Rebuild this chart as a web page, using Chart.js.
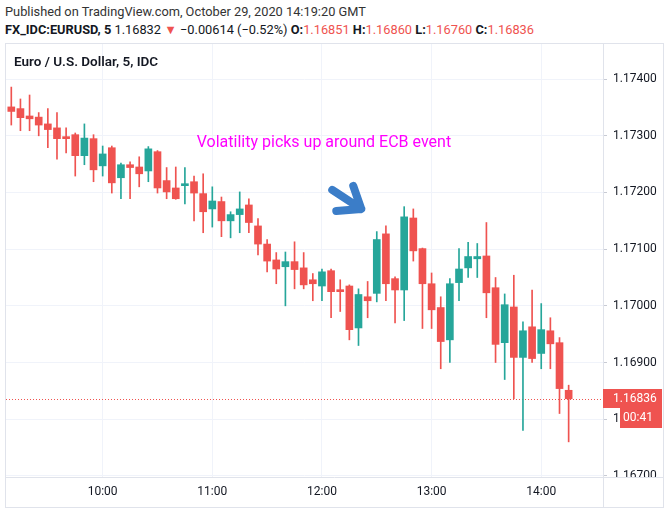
<!DOCTYPE html>
<html>
<head>
<meta charset="utf-8">
<script src="https://cdn.jsdelivr.net/npm/chart.js@4.4.0/dist/chart.umd.min.js"></script>
<style>
  body { margin: 0; background: #fff; font-family: Roboto, 'Liberation Sans', sans-serif; color: #131722; }
  #head1 { position: absolute; left: 5px; top: 4px; font-size: 12.8px; white-space: nowrap; color: #333; }
  #head2 { position: absolute; left: 5px; top: 22px; font-size: 12.8px; white-space: nowrap; }
  .red { color: #ef5350; }
  #frame { position: absolute; left: 5px; top: 43px; width: 657px; height: 463px; border: 1px solid #e0e3eb; }
  #chart { position: absolute; left: 0; top: 0; }
  #title { position: absolute; left: 8px; top: 9px; font-size: 13.5px; font-weight: 600; }
</style>
</head>
<body>
<div id="head1">Published on TradingView.com, October 29, 2020 14:19:20 GMT</div>
<div id="head2"></div>
<div id="frame">
  <canvas id="chart" width="657" height="463"></canvas>
  <div id="title">Euro / U.S. Dollar, 5, IDC</div>
</div>
<script>
// 5 minute candles, 29 Oct 2020
const times = ['09:10','09:15','09:20','09:25','09:30','09:35','09:40','09:45','09:50','09:55',
  '10:00','10:05','10:10','10:15','10:20','10:25','10:30','10:35','10:40','10:45','10:50','10:55',
  '11:00','11:05','11:10','11:15','11:20','11:25','11:30','11:35','11:40','11:45','11:50','11:55',
  '12:00','12:05','12:10','12:15','12:20','12:25','12:30','12:35','12:40','12:45','12:50','12:55',
  '13:00','13:05','13:10','13:15','13:20','13:25','13:30','13:35','13:40','13:45','13:50','13:55',
  '14:00','14:05','14:10','14:15'];
const opens = [1.17351,1.17348,1.17335,1.17333,1.17321,1.17314,1.17298,1.17302,1.17265,1.17295,
  1.17247,1.17279,1.17226,1.17249,1.17245,1.17238,1.17272,1.17221,1.17208,1.17212,1.17219,1.17198,
  1.17171,1.17184,1.17150,1.17161,1.17178,1.17141,1.17109,1.17081,1.17069,1.17078,1.17067,1.17046,
  1.17035,1.17062,1.17027,1.17035,1.16961,1.17016,1.17022,1.17127,1.17048,1.17028,1.17155,1.17101,
  1.17039,1.16997,1.16940,1.17041,1.17067,1.17083,1.17088,1.17032,1.16935,1.16998,1.16909,1.16963,
  1.16916,1.16956,1.16935,1.16851];
const highs = [1.17386,1.17365,1.17372,1.17341,1.17348,1.17341,1.17314,1.17305,1.17321,1.17302,
  1.17282,1.17282,1.17252,1.17254,1.17263,1.17281,1.17274,1.17244,1.17245,1.17244,1.17229,1.17233,
  1.17210,1.17192,1.17166,1.17201,1.17189,1.17154,1.17117,1.17094,1.17095,1.17113,1.17094,1.17057,
  1.17065,1.17065,1.17046,1.17037,1.17030,1.17043,1.17131,1.17141,1.17051,1.17175,1.17171,1.17102,
  1.17058,1.17016,1.17048,1.17101,1.17112,1.17110,1.17147,1.17050,1.17021,1.17054,1.16972,1.17028,
  1.17004,1.16979,1.16944,1.16860];
const lows = [1.17319,1.17309,1.17309,1.17300,1.17279,1.17259,1.17270,1.17229,1.17249,1.17219,
  1.17229,1.17199,1.17189,1.17189,1.17210,1.17219,1.17199,1.17189,1.17188,1.17180,1.17150,1.17129,
  1.17139,1.17122,1.17120,1.17129,1.17129,1.17090,1.17060,1.17039,1.17000,1.17030,1.17030,1.17009,
  1.17009,1.16979,1.16990,1.16940,1.16930,1.16979,1.17007,1.17009,1.16970,1.16974,1.17079,1.16960,
  1.16960,1.16889,1.16900,1.17009,1.17050,1.17050,1.16979,1.16900,1.16870,1.16836,1.16780,1.16900,
  1.16889,1.16889,1.16810,1.16760];
const closes = [1.17343,1.17332,1.17330,1.17319,1.17311,1.17295,1.17295,1.17265,1.17296,1.17240,
  1.17268,1.17217,1.17249,1.17244,1.17233,1.17277,1.17208,1.17201,1.17189,1.17214,1.17199,1.17166,
  1.17185,1.17150,1.17161,1.17171,1.17147,1.17109,1.17079,1.17065,1.17078,1.17064,1.17037,1.17039,
  1.17060,1.17025,1.17025,1.16958,1.17020,1.17009,1.17117,1.17039,1.17028,1.17157,1.17097,1.17039,
  1.16993,1.16937,1.17039,1.17065,1.17087,1.17087,1.17023,1.16932,1.17002,1.16909,1.16956,1.16907,
  1.16958,1.16933,1.16854,1.16836];
const hourTicks = ['10:00','11:00','12:00','13:00','14:00'];
const lastPrice = '1.16832';
const change = '\u22120.00614 (\u22120.52%)';
const countdown = '00:41';
const note = 'Volatility picks up around ECB event';
const noteAt = { x: 20.3, y: 1.17288 };   // left/middle of the text, in data units
const arrowAt = { x: 38.3, y: 1.17171 };  // arrow tip

const up = '#26a69a';
const down = '#ef5350';
const last = times.length - 1;

document.getElementById('head2').innerHTML =
  '<b>FX_IDC:EURUSD, 5</b> ' + lastPrice + ' <span class="red">\u25BC</span> ' + change +
  ' <b>O:</b><span class="red">' + opens[last].toFixed(5) + '</span>' +
  ' <b>H:</b><span class="red">' + highs[last].toFixed(5) + '</span>' +
  ' <b>L:</b><span class="red">' + lows[last].toFixed(5) + '</span>' +
  ' <b>C:</b><span class="red">' + closes[last].toFixed(5) + '</span>';

const colors = opens.map((o, i) => closes[i] >= o ? up : down);

Chart.defaults.font.family = "Roboto, 'Liberation Sans', sans-serif";

const overlay = {
  id: 'overlay',
  beforeDatasetsDraw(chart) {
    const { ctx, chartArea: a, scales: { y } } = chart;
    const py = Math.round(y.getPixelForValue(closes[last])) + 0.5;
    ctx.save();
    ctx.strokeStyle = down;
    ctx.lineWidth = 1;
    ctx.setLineDash([1, 2]);
    ctx.beginPath();
    ctx.moveTo(a.left, py);
    ctx.lineTo(a.right, py);
    ctx.stroke();
    ctx.restore();
  },
  afterDraw(chart) {
    const { ctx, chartArea: a, scales: { x, y }, width, height } = chart;
    ctx.save();
    // cut off the bottom price label like the axis does
    ctx.fillStyle = '#fff';
    ctx.fillRect(a.right + 1, a.bottom, width - a.right - 1, height - a.bottom);
    ctx.strokeStyle = '#e0e3eb';
    ctx.lineWidth = 1;
    ctx.beginPath();
    ctx.moveTo(0, a.bottom + 0.5);
    ctx.lineTo(width, a.bottom + 0.5);
    ctx.moveTo(a.right + 0.5, a.bottom);
    ctx.lineTo(a.right + 0.5, height);
    ctx.stroke();

    // last price label + countdown
    const py = Math.round(y.getPixelForValue(closes[last]));
    ctx.fillStyle = down;
    ctx.fillRect(a.right, py - 10, width - a.right - 1, 19);
    ctx.fillRect(a.right + 17, py + 9, width - a.right - 18, 20);
    ctx.fillStyle = '#fff';
    ctx.font = "12px Roboto, 'Liberation Sans', sans-serif";
    ctx.textBaseline = 'middle';
    ctx.textAlign = 'left';
    ctx.fillText(closes[last].toFixed(5), a.right + 10, py);
    ctx.fillText(countdown, a.right + 20, py + 19);

    // annotation text
    ctx.fillStyle = '#ff00ff';
    ctx.font = "16px Roboto, 'Liberation Sans', sans-serif";
    ctx.fillText(note, x.getPixelForValue(noteAt.x), y.getPixelForValue(noteAt.y));

    // annotation arrow
    const tx = x.getPixelForValue(arrowAt.x);
    const ty = y.getPixelForValue(arrowAt.y);
    ctx.strokeStyle = '#3b7dc8';
    ctx.lineWidth = 8;
    ctx.lineCap = 'round';
    ctx.lineJoin = 'round';
    ctx.beginPath();
    ctx.moveTo(tx - 29, ty - 19);
    ctx.lineTo(tx, ty);
    ctx.moveTo(tx - 8, ty - 23);
    ctx.lineTo(tx, ty);
    ctx.lineTo(tx - 25, ty + 2);
    ctx.stroke();
    ctx.restore();
  }
};

const ctx = document.getElementById('chart').getContext('2d');
new Chart(ctx, {
  type: 'bar',
  data: {
    datasets: [
      {
        label: 'Body',
        data: times.map((t, i) => ({ x: i, y: [opens[i], closes[i]] })),
        backgroundColor: colors,
        barThickness: 7,
        minBarLength: 2,
        grouped: false,
        order: 1
      },
      {
        label: 'Wick',
        data: times.map((t, i) => ({ x: i, y: [lows[i], highs[i]] })),
        backgroundColor: colors,
        barThickness: 1,
        grouped: false,
        order: 2
      }
    ]
  },
  options: {
    responsive: false,
    animation: false,
    devicePixelRatio: 1,
    layout: { padding: 0 },
    plugins: {
      legend: { display: false },
      tooltip: { enabled: false }
    },
    scales: {
      x: {
        type: 'linear',
        min: -0.58,
        max: 64.76,
        offset: false,
        afterBuildTicks: axis => {
          axis.ticks = hourTicks.map(h => ({ value: times.indexOf(h) }));
        },
        afterFit: axis => {
          axis.height = 30;
          axis.paddingLeft = 0;
          axis.paddingRight = 0;
        },
        ticks: {
          autoSkip: false,
          maxRotation: 0,
          padding: 8,
          color: '#131722',
          font: { size: 12 },
          callback: v => times[v]
        },
        grid: { color: '#f0f3fa', drawTicks: false, offset: false },
        border: { display: false }
      },
      y: {
        position: 'right',
        min: 1.16698,
        max: 1.17462,
        afterFit: axis => {
          axis.width = 60;
          axis.paddingTop = 0;
          axis.paddingBottom = 0;
        },
        ticks: {
          stepSize: 0.001,
          includeBounds: false,
          padding: 6,
          color: '#131722',
          font: { size: 12 },
          callback: v => v.toFixed(5)
        },
        grid: { color: '#f0f3fa', tickLength: 4, tickColor: '#c8cbd4' },
        border: { color: '#e0e3eb' }
      }
    }
  },
  plugins: [overlay]
});
</script>
</body>
</html>
